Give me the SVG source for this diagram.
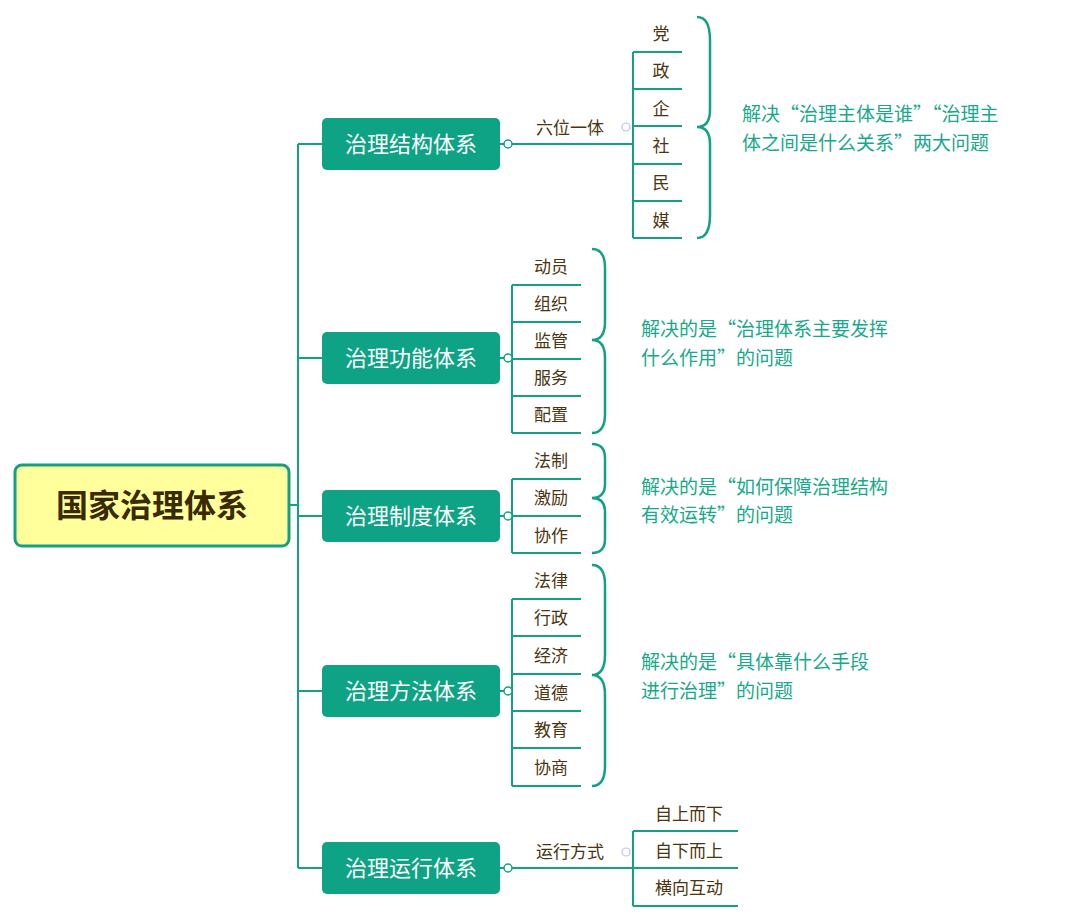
<svg xmlns="http://www.w3.org/2000/svg" width="1080" height="921" viewBox="0 0 1080 921">
<style>
.c{fill:none;stroke:#13a085;stroke-width:2}
.b{fill:none;stroke:#13a085;stroke-width:2.5}
.l1 rect{fill:#0ea384}
.l1 text{fill:#fff;font:22px "Noto Sans CJK SC",sans-serif;text-anchor:middle}
.it{fill:#4a3510;font:17px "Noto Sans CJK SC",sans-serif;text-anchor:middle}
.n{fill:#17a98a;font:19px "Noto Sans CJK SC",sans-serif}
.k{fill:#fff;stroke:#13a085;stroke-width:1.5}
.g{fill:#fff;stroke:#b8c4e8;stroke-width:1.2}
</style>
<rect width="1080" height="921" fill="#fff"/>
<g id="connectors">
<path class="c" d="M289 505H298M298 144V868M298 144H322M298 358H322M298 516H322M298 691H322M298 868H322"/>
<path class="c" d="M500 144H633M633 52V238M633 52H682M633 89H682M633 126H682M633 164H682M633 201H682M633 238H682"/>
<path class="c" d="M500 358H512M512 285V433M512 285H581M512 322H581M512 359H581M512 396H581M512 433H581"/>
<path class="c" d="M500 516H512M512 479V553M512 479H581M512 516H581M512 553H581"/>
<path class="c" d="M500 691H512M512 599V786M512 599H581M512 636H581M512 674H581M512 711H581M512 748H581M512 786H581"/>
<path class="c" d="M500 868H633M633 831V906M633 831H738M633 868H738M633 906H738"/>
<circle class="k" cx="508" cy="144" r="4"/><circle class="k" cx="508" cy="358" r="4"/><circle class="k" cx="508" cy="516" r="4"/><circle class="k" cx="508" cy="691" r="4"/><circle class="k" cx="508" cy="868" r="4"/>
<circle class="g" cx="626" cy="127" r="4"/><circle class="g" cx="626" cy="852" r="4"/>
<path class="b" d="M697 17Q710 17 710 40V110Q710 127 697 127Q710 127 710 144V215Q710 238 697 238"/>
<path class="b" d="M592 249Q605 249 605 268V322Q605 340 592 340Q605 340 605 358V414Q605 433 592 433"/>
<path class="b" d="M592 444Q605 444 605 458V484Q605 498 592 498Q605 498 605 512V539Q605 553 592 553"/>
<path class="b" d="M592 565Q605 565 605 585V655Q605 675 592 675Q605 675 605 695V766Q605 786 592 786"/>
</g>
<g id="root"><rect x="15" y="465" width="274" height="81" rx="7" fill="#ffff9c" stroke="#13a085" stroke-width="3"/><text x="152" y="517" text-anchor="middle" style="font:bold 32px 'Noto Sans CJK SC',sans-serif;fill:#3a2a00">国家治理体系</text></g>
<g id="n1" class="l1"><rect x="322" y="118" width="178" height="52" rx="5"/><text x="411" y="152">治理结构体系</text></g>
<g id="n2" class="l1"><rect x="322" y="332" width="178" height="52" rx="5"/><text x="411" y="366">治理功能体系</text></g>
<g id="n3" class="l1"><rect x="322" y="490" width="178" height="52" rx="5"/><text x="411" y="524">治理制度体系</text></g>
<g id="n4" class="l1"><rect x="322" y="665" width="178" height="52" rx="5"/><text x="411" y="699">治理方法体系</text></g>
<g id="n5" class="l1"><rect x="322" y="842" width="178" height="52" rx="5"/><text x="411" y="876">治理运行体系</text></g>
<g id="items">
<text class="it" x="570" y="134">六位一体</text>
<text class="it" x="661" y="40">党</text><text class="it" x="661" y="77">政</text><text class="it" x="661" y="115">企</text><text class="it" x="661" y="152">社</text><text class="it" x="661" y="189">民</text><text class="it" x="661" y="227">媒</text>
<text class="it" x="551" y="273">动员</text><text class="it" x="551" y="310">组织</text><text class="it" x="551" y="347">监管</text><text class="it" x="551" y="384">服务</text><text class="it" x="551" y="421">配置</text>
<text class="it" x="551" y="467">法制</text><text class="it" x="551" y="504">激励</text><text class="it" x="551" y="542">协作</text>
<text class="it" x="551" y="587">法律</text><text class="it" x="551" y="624">行政</text><text class="it" x="551" y="662">经济</text><text class="it" x="551" y="699">道德</text><text class="it" x="551" y="736">教育</text><text class="it" x="551" y="774">协商</text>
<text class="it" x="570" y="858">运行方式</text>
<text class="it" x="689" y="820">自上而下</text><text class="it" x="689" y="857">自下而上</text><text class="it" x="689" y="894">横向互动</text>
</g>
<g id="notes">
<text class="n" x="742" y="121">解决“治理主体是谁”“治理主</text><text class="n" x="742" y="150">体之间是什么关系”两大问题</text>
<text class="n" x="641" y="336">解决的是“治理体系主要发挥</text><text class="n" x="641" y="365">什么作用”的问题</text>
<text class="n" x="641" y="494">解决的是“如何保障治理结构</text><text class="n" x="641" y="522">有效运转”的问题</text>
<text class="n" x="641" y="669">解决的是“具体靠什么手段</text><text class="n" x="641" y="698">进行治理”的问题</text>
</g>
</svg>
